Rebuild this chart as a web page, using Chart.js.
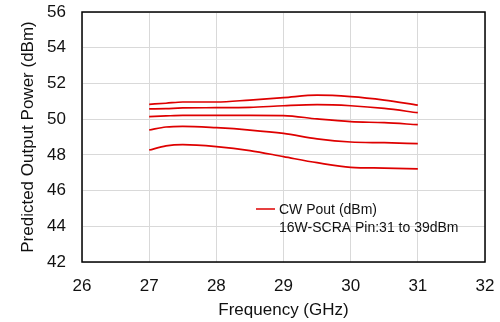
<!DOCTYPE html>
<html>
<head>
<meta charset="utf-8">
<script src="https://cdn.jsdelivr.net/npm/chart.js@4"></script>
<style>
    html, body { margin: 0; padding: 0; background: #fff; }
    #wrap { width: 500px; height: 322px; position: relative; }
</style>
</head>
<body>
<div id="wrap"><canvas id="powerChart"></canvas></div>
<script>
// Frequency points (GHz)
const FREQS = [27, 27.25, 27.5, 28, 28.5, 29, 29.5, 30, 30.5, 31];

// Predicted Pout (dBm), one curve per input power step
const POUT_1 = [50.83, 50.89, 50.96, 50.96, 51.07, 51.20, 51.34, 51.26, 51.07, 50.79];
const POUT_2 = [50.57, 50.59, 50.63, 50.64, 50.66, 50.75, 50.81, 50.75, 50.60, 50.36];
const POUT_3 = [50.14, 50.18, 50.21, 50.21, 50.21, 50.20, 50.01, 49.86, 49.80, 49.69];
const POUT_4 = [49.39, 49.56, 49.60, 49.52, 49.39, 49.20, 48.90, 48.72, 48.68, 48.63];
const POUT_5 = [48.27, 48.50, 48.57, 48.46, 48.24, 47.90, 47.56, 47.30, 47.26, 47.21];

const SERIES = [POUT_1, POUT_2, POUT_3, POUT_4, POUT_5];

const LEGEND_LINES = ['CW Pout (dBm)', '16W-SCRA Pin:31 to 39dBm'];

const RED = 'rgb(222, 0, 0)';
const FONT = "'Liberation Sans', Arial, sans-serif";

// Frame around plot area + legend inside it
const framePlugin = {
    id: 'frame',
    afterDraw(chart) {
        const { ctx, chartArea: a } = chart;
        ctx.save();
        ctx.strokeStyle = '#000';
        ctx.lineWidth = 1.5;
        ctx.strokeRect(a.left, a.top, a.right - a.left, a.bottom - a.top);

        // legend
        const lx = a.right - 229;
        const ly = a.bottom - 53;
        ctx.strokeStyle = RED;
        ctx.lineWidth = 1.5;
        ctx.beginPath();
        ctx.moveTo(lx, ly);
        ctx.lineTo(lx + 19, ly);
        ctx.stroke();
        ctx.fillStyle = '#111';
        ctx.font = '14px ' + FONT;
        ctx.textBaseline = 'middle';
        ctx.textAlign = 'left';
        ctx.fillText(LEGEND_LINES[0], lx + 23, ly + 1);
        ctx.fillText(LEGEND_LINES[1], lx + 23, ly + 19);
        ctx.restore();
    }
};

new Chart(document.getElementById('powerChart'), {
    type: 'line',
    data: {
        datasets: SERIES.map(s => ({
            data: FREQS.map((f, i) => ({ x: f, y: s[i] })),
            borderColor: RED,
            borderWidth: 1.7,
            pointRadius: 0,
            fill: false,
            cubicInterpolationMode: 'monotone'
        }))
    },
    options: {
        responsive: true,
        maintainAspectRatio: false,
        animation: false,
        layout: { padding: { top: 12, right: 15, left: 0, bottom: 0 } },
        plugins: {
            legend: { display: false },
            tooltip: { enabled: false }
        },
        scales: {
            x: {
                type: 'linear',
                min: 26,
                max: 32,
                afterFit(scale) {
                    scale.height = 60;
                    scale.paddingLeft = 0;
                    scale.paddingRight = 0;
                },
                grid: { color: '#d9d9d9', drawTicks: false },
                border: { display: false },
                ticks: {
                    stepSize: 1,
                    padding: 14,
                    color: '#111',
                    font: { family: FONT, size: 17 }
                },
                title: {
                    display: true,
                    text: 'Frequency (GHz)',
                    color: '#111',
                    padding: { top: 0, bottom: 1 },
                    font: { family: FONT, size: 17 }
                }
            },
            y: {
                min: 42,
                max: 56,
                afterFit(scale) {
                    scale.width = 82;
                    scale.paddingTop = 0;
                    scale.paddingBottom = 0;
                },
                grid: { color: '#d9d9d9', drawTicks: false },
                border: { display: false },
                ticks: {
                    stepSize: 2,
                    padding: 16,
                    color: '#111',
                    font: { family: FONT, size: 17 }
                },
                title: {
                    display: true,
                    text: 'Predicted Output Power (dBm)',
                    color: '#111',
                    padding: { top: 18, bottom: 0 },
                    font: { family: FONT, size: 17 }
                }
            }
        }
    },
    plugins: [framePlugin]
});
</script>
</body>
</html>
